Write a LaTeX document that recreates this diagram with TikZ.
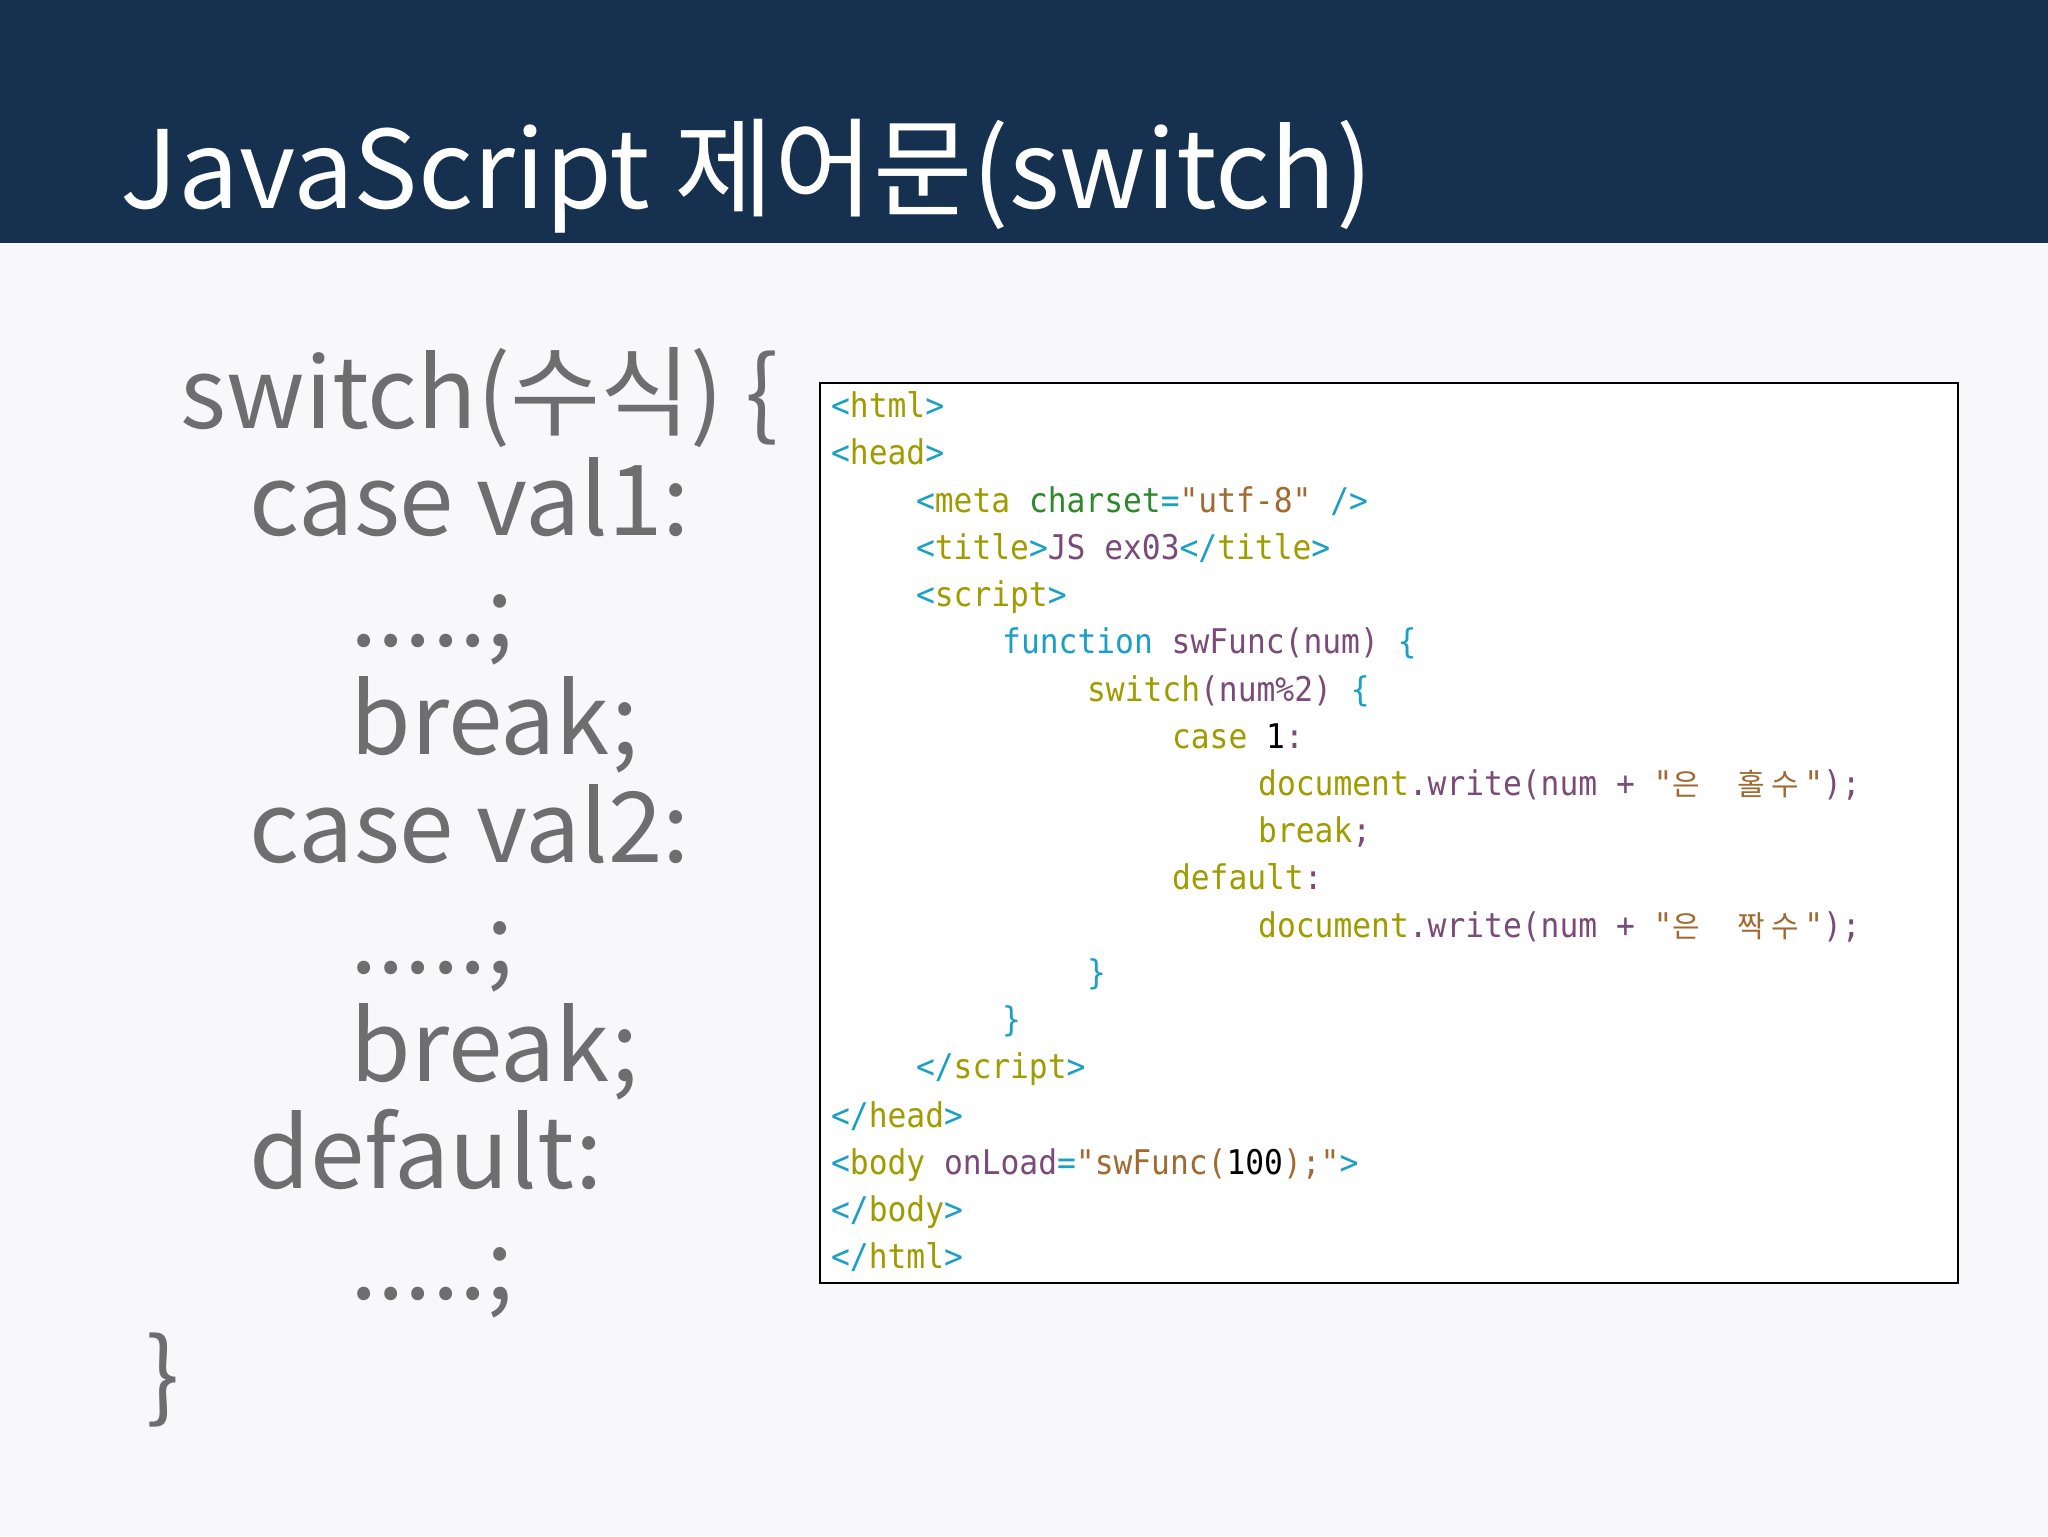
\documentclass[tikz,border=0pt]{standalone}
\usepackage{fontspec}
\setmainfont{Noto Sans CJK KR}
\setmonofont{DejaVu Sans Mono}[FakeStretch=0.92]
\newfontfamily\cjk{Noto Sans CJK KR}
\definecolor{navy}{HTML}{15314F}
\definecolor{bgc}{HTML}{F8F8FB}
\definecolor{graytxt}{HTML}{6E6E6E}
\definecolor{ccy}{HTML}{1AA0C4}
\definecolor{col}{HTML}{A09C00}
\definecolor{cgr}{HTML}{2C8A2C}
\definecolor{cbr}{HTML}{A06A30}
\definecolor{cpu}{HTML}{7A4A78}
\newcommand\cCy[1]{\textcolor{ccy}{#1}}
\newcommand\cOl[1]{\textcolor{col}{#1}}
\newcommand\cGr[1]{\textcolor{cgr}{#1}}
\newcommand\cBr[1]{\textcolor{cbr}{#1}}
\newcommand\cPu[1]{\textcolor{cpu}{#1}}
\newcommand\kr[1]{{\cjk\fontsize{15pt}{15pt}\selectfont #1}}
\begin{document}
\begin{tikzpicture}[x=0.65306pt,y=-0.65306pt,
  big/.style={anchor=base west,inner sep=0,text=graytxt,font=\fontsize{49pt}{49pt}\selectfont},
  code/.style={anchor=base west,inner sep=0,font=\ttfamily\fontsize{17pt}{17pt}\selectfont}]
\useasboundingbox (0,0) rectangle (1568,1176);
\fill[bgc] (0,0) rectangle (1568,1176);
\fill[navy] (0,0) rectangle (1568,186);
\node[anchor=base west,inner sep=0,text=white,font=\fontsize{54pt}{54pt}\selectfont] (title) at (92,160) {JavaScript 제어문(switch)};
% left pseudo-code
\node[big] (l1) at (138,328) {switch(수식) \{};
\node[big] (l2) at (191,410) {case val1:};
\node[big] (l3) at (268,495) {.....;};
\node[big] (l4) at (268,578) {break;};
\node[big] (l5) at (191,660) {case val2:};
\node[big] (l6) at (268,745) {.....;};
\node[big] (l7) at (268,828) {break;};
\node[big] (l8) at (191,910) {default:};
\node[big] (l9) at (268,995) {.....;};
\node[big] (l10) at (112,1080) {\}};
% code box
\draw[fill=white,line width=1pt] (628,293) rectangle (1499,982);
\node[code] (c1) at (636,320) {\cCy{<}\cOl{html}\cCy{>}};
\node[code] (c2) at (636,356) {\cCy{<}\cOl{head}\cCy{>}};
\node[code] (c3) at (701,392) {\cCy{<}\cOl{meta} \cGr{charset}\cCy{=}\cBr{"utf-8"} \cCy{/>}};
\node[code] (c4) at (701,428) {\cCy{<}\cOl{title}\cCy{>}\cPu{JS ex03}\cCy{</}\cOl{title}\cCy{>}};
\node[code] (c5) at (701,464) {\cCy{<}\cOl{script}\cCy{>}};
\node[code] (c6) at (767,500) {\cCy{function} \cPu{swFunc(num)} \cCy{\{}};
\node[code] (c7) at (832,537) {\cOl{switch}\cPu{(num\%2)} \cCy{\{}};
\node[code] (c8) at (897,573) {\cOl{case} 1\cPu{:}};
\node[code] (c9) at (963,609) {\cOl{document}\cPu{.write(num + }\cBr{"\kr{은}\ \ \kr{홀}\,\kr{수}\,"}\cPu{);}};
\node[code] (c10) at (963,645) {\cOl{break}\cPu{;}};
\node[code] (c11) at (897,681) {\cOl{default}\cPu{:}};
\node[code] (c12) at (963,718) {\cOl{document}\cPu{.write(num + }\cBr{"\kr{은}\ \ \kr{짝}\,\kr{수}\,"}\cPu{);}};
\node[code] (c13) at (832,754) {\cCy{\}}};
\node[code] (c14) at (767,790) {\cCy{\}}};
\node[code] (c15) at (701,826) {\cCy{</}\cOl{script}\cCy{>}};
\node[code] (c16) at (636,863) {\cCy{</}\cOl{head}\cCy{>}};
\node[code] (c17) at (636,899) {\cCy{<}\cOl{body} \cPu{onLoad}\cCy{=}\cBr{"swFunc(}100\cBr{);"}\cCy{>}};
\node[code] (c18) at (636,935) {\cCy{</}\cOl{body}\cCy{>}};
\node[code] (c19) at (636,971) {\cCy{</}\cOl{html}\cCy{>}};
\end{tikzpicture}
\end{document}
